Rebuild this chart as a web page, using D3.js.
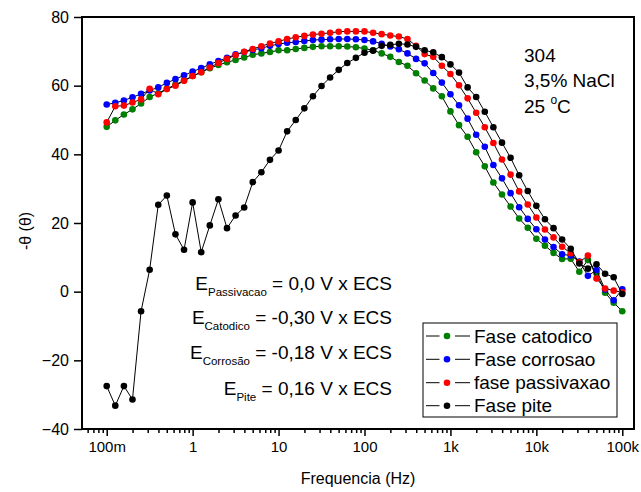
<!DOCTYPE html>
<html>
<head>
<meta charset="utf-8">
<script src="https://cdn.jsdelivr.net/npm/d3@7"></script>
<style>
  html, body { margin: 0; padding: 0; background: #fff; }
  svg { display: block; font-family: Arial, "Liberation Sans", Helvetica, sans-serif; }
</style>
</head>
<body>
<svg id="chart" width="641" height="492"></svg>
<script>
// Measurement frequencies (Hz), 10 points per decade
const frequencies = [
  0.1, 0.1259, 0.1585, 0.1995, 0.2512, 0.3162, 0.3981, 0.5012, 0.631, 0.7943,
  1, 1.259, 1.585, 1.995, 2.512, 3.162, 3.981, 5.012, 6.31, 7.943,
  10, 12.59, 15.85, 19.95, 25.12, 31.62, 39.81, 50.12, 63.1, 79.43,
  100, 125.9, 158.5, 199.5, 251.2, 316.2, 398.1, 501.2, 631, 794.3,
  1000, 1259, 1585, 1995, 2512, 3162, 3981, 5012, 6310, 7943,
  10000, 12590, 15850, 19950, 25120, 31620, 39810, 50120, 63100, 79430,
  100000
];

// Phase angle -θ for each polarisation condition
const faseCatodico = [
  48.0, 49.9, 51.6, 53.1, 54.8, 56.7, 57.8, 59.1, 60.3, 61.5,
  62.8, 63.9, 65.1, 66.0, 66.8, 67.5, 68.2, 69.0, 69.4, 69.8,
  70.3, 70.3, 70.7, 71.0, 71.3, 71.5, 71.5, 71.5, 71.4, 71.2,
  70.8, 70.3, 69.4, 68.4, 66.9, 65.8, 63.6, 61.5, 59.2, 56.9,
  52.5, 48.5, 45.1, 40.6, 36.5, 31.8, 28.3, 24.8, 21.3, 18.6,
  15.4, 13.4, 11.3, 9.5, 9.6, 5.8, 9.2, 5.4, -0.3, -3.2,
  -5.7
];
const faseCorrosao = [
  54.5, 55.0, 55.7, 56.6, 57.6, 58.6, 59.5, 60.8, 61.9, 63.0,
  64.1, 65.1, 66.2, 67.2, 68.1, 69.1, 69.8, 70.4, 70.9, 71.6,
  72.1, 72.5, 72.7, 73.0, 73.3, 73.4, 73.5, 73.6, 73.6, 73.5,
  73.3, 72.9, 72.2, 71.4, 70.6, 69.4, 67.8, 66.5, 63.7, 60.9,
  57.5, 54.3, 50.4, 45.7, 42.2, 36.9, 33.0, 28.7, 24.6, 21.2,
  18.2, 15.2, 13.0, 10.9, 10.5, 8.8, 4.6, 6.3, 0.6, -2.5,
  0.7
];
const fasePassivacao = [
  49.3, 54.0, 54.2, 55.1, 56.0, 59.1, 57.5, 59.0, 60.0, 61.4,
  62.8, 63.9, 65.3, 66.6, 67.8, 68.9, 69.9, 70.7, 71.5, 72.3,
  72.9, 73.6, 74.1, 74.5, 74.9, 75.1, 75.4, 75.7, 75.8, 75.8,
  75.8, 75.4, 75.0, 74.6, 74.3, 73.6, 71.6, 69.2, 68.4, 65.8,
  63.4, 60.1, 56.3, 52.1, 47.9, 43.3, 38.5, 34.1, 29.2, 25.4,
  21.6, 18.1, 15.8, 13.1, 11.2, 8.6, 10.5, 3.8, 0.9, 0.3,
  -0.2
];
const fasePite = [
  -27.5, -33.2, -27.5, -31.4, -5.7, 6.4, 25.3, 28.0, 16.7, 12.2,
  26.0, 11.5, 19.3, 26.9, 18.5, 22.2, 24.5, 31.9, 34.8, 38.4,
  41.1, 46.7, 50.0, 53.4, 56.9, 59.9, 62.4, 64.6, 66.6, 68.1,
  69.6, 70.2, 71.6, 71.9, 72.2, 72.0, 71.3, 70.3, 69.7, 68.3,
  66.2, 63.8, 59.5, 56.7, 52.4, 47.9, 43.4, 39.0, 33.9, 29.3,
  25.0, 21.1, 18.5, 15.2, 12.5, 8.2, 6.7, 8.0, 5.2, 4.2,
  -0.7
];

const seriesNames = ["Fase catodico", "Fase corrosao", "fase passivaxao", "Fase pite"];
const seriesColors = ["#008000", "#0000ff", "#ff0000", "#000000"];
const seriesValues = [faseCatodico, faseCorrosao, fasePassivacao, fasePite];

const xTickValues = [0.1, 1, 10, 100, 1000, 10000, 100000];
const xTickLabels = ["100m", "1", "10", "100", "1k", "10k", "100k"];
const yTickValues = [-40, -20, 0, 20, 40, 60, 80];

const infoLines = ["304", "3,5% NaCl"];
const potentials = [
  { sub: "Passivacao", value: "= 0,0 V x ECS" },
  { sub: "Catodico", value: "= -0,30 V x ECS" },
  { sub: "Corrosão", value: "= -0,18 V x ECS" },
  { sub: "Pite", value: "= 0,16 V x ECS" }
];

// ---- layout ----
const plot = { left: 82, right: 634, top: 17, bottom: 429 };
const decadePx = 85.93;
const logLow = -1 - (106.7 - plot.left) / decadePx;
const logHigh = logLow + (plot.right - plot.left) / decadePx;

const svg = d3.select("#chart");

const x = d3.scaleLog()
  .domain([Math.pow(10, logLow), Math.pow(10, logHigh)])
  .range([plot.left, plot.right]);
const y = d3.scaleLinear()
  .domain([-40, 80])
  .range([plot.bottom, plot.top]);

// minor ticks on the log axis (2..9 in each decade, inside the domain)
const minorTicks = [];
for (let e = -2; e <= 5; e++) {
  for (let m = 2; m <= 9; m++) {
    const v = m * Math.pow(10, e);
    if (v >= x.domain()[0] && v <= x.domain()[1]) minorTicks.push(v);
  }
}

// x axis: major ticks with labels
const xAxis = svg.append("g")
  .attr("transform", `translate(0,${plot.bottom})`)
  .call(d3.axisBottom(x)
    .tickValues(xTickValues)
    .tickFormat((d, i) => xTickLabels[i])
    .tickSize(7)
    .tickSizeOuter(0)
    .tickPadding(5));
xAxis.select(".domain").remove();
xAxis.selectAll(".tick line").attr("stroke", "#000").attr("stroke-width", 1.5);
xAxis.selectAll(".tick text")
  .attr("fill", "#000")
  .style("font-size", "15px");

// x axis: minor ticks
const xMinor = svg.append("g")
  .attr("transform", `translate(0,${plot.bottom})`)
  .call(d3.axisBottom(x).tickValues(minorTicks).tickFormat("").tickSize(4).tickSizeOuter(0));
xMinor.select(".domain").remove();
xMinor.selectAll(".tick line").attr("stroke", "#000").attr("stroke-width", 1.5);

// y axis
const yAxis = svg.append("g")
  .attr("transform", `translate(${plot.left},0)`)
  .call(d3.axisLeft(y)
    .tickValues(yTickValues)
    .tickSize(8)
    .tickSizeOuter(0)
    .tickPadding(5));
yAxis.select(".domain").remove();
yAxis.selectAll(".tick line").attr("stroke", "#000").attr("stroke-width", 1.5);
yAxis.selectAll(".tick text")
  .attr("fill", "#000")
  .style("font-size", "16px");

// frame
svg.append("rect")
  .attr("x", plot.left)
  .attr("y", plot.top)
  .attr("width", plot.right - plot.left)
  .attr("height", plot.bottom - plot.top)
  .attr("fill", "none")
  .attr("stroke", "#000")
  .attr("stroke-width", 2);

// axis titles
svg.append("text")
  .attr("x", (plot.left + plot.right) / 2)
  .attr("y", 484)
  .attr("text-anchor", "middle")
  .style("font-size", "16px")
  .text("Frequencia (Hz)");

svg.append("text")
  .attr("transform", `translate(31,231) rotate(-90)`)
  .attr("text-anchor", "middle")
  .style("font-size", "16px")
  .text("-θ (θ)");

// series: thin black connecting line, coloured markers
const line = d3.line()
  .x((d, i) => x(frequencies[i]))
  .y(d => y(d));

seriesValues.forEach((vals, s) => {
  const g = svg.append("g");
  g.append("path")
    .datum(vals)
    .attr("d", line)
    .attr("fill", "none")
    .attr("stroke", "#000")
    .attr("stroke-width", 1);
  g.selectAll("circle")
    .data(vals)
    .join("circle")
    .attr("cx", (d, i) => x(frequencies[i]))
    .attr("cy", d => y(d))
    .attr("r", 3.3)
    .attr("fill", seriesColors[s]);
});

// sample information (top right)
const info = svg.append("g").style("font-size", "19px");
infoLines.forEach((t, i) => {
  info.append("text").attr("x", 524).attr("y", 62 + i * 25).text(t);
});
const temp = info.append("text").attr("x", 524).attr("y", 113);
temp.append("tspan").text("25 ");
temp.append("tspan").style("font-size", "12px").attr("dy", -9).text("o");
temp.append("tspan").attr("dy", 9).text("C");

// electrode potentials
const potBaselines = [290, 324, 359, 395];
potentials.forEach((p, i) => {
  const t = svg.append("text")
    .attr("x", 392)
    .attr("y", potBaselines[i])
    .attr("text-anchor", "end")
    .style("font-size", "19px");
  t.append("tspan").text("E");
  t.append("tspan").style("font-size", "11.5px").attr("dy", 6).text(p.sub);
  t.append("tspan").attr("dy", -6).text(" " + p.value);
});

// legend
const legend = svg.append("g");
legend.append("rect")
  .attr("x", 423).attr("y", 323)
  .attr("width", 194).attr("height", 94)
  .attr("fill", "#fff")
  .attr("stroke", "#000")
  .attr("stroke-width", 1);
const rowY = [336, 359.3, 382.7, 405.7];
seriesNames.forEach((name, i) => {
  const row = legend.append("g").attr("transform", `translate(0,${rowY[i]})`);
  row.append("line").attr("x1", 426).attr("x2", 439.5).attr("y1", 0).attr("y2", 0)
    .attr("stroke", "#000").attr("stroke-width", 1);
  row.append("line").attr("x1", 455).attr("x2", 470).attr("y1", 0).attr("y2", 0)
    .attr("stroke", "#000").attr("stroke-width", 1);
  row.append("circle").attr("cx", 447).attr("cy", 0).attr("r", 3.3).attr("fill", seriesColors[i]);
  row.append("text").attr("x", 474).attr("y", 6.5).style("font-size", "19px").text(name);
});
</script>
</body>
</html>
